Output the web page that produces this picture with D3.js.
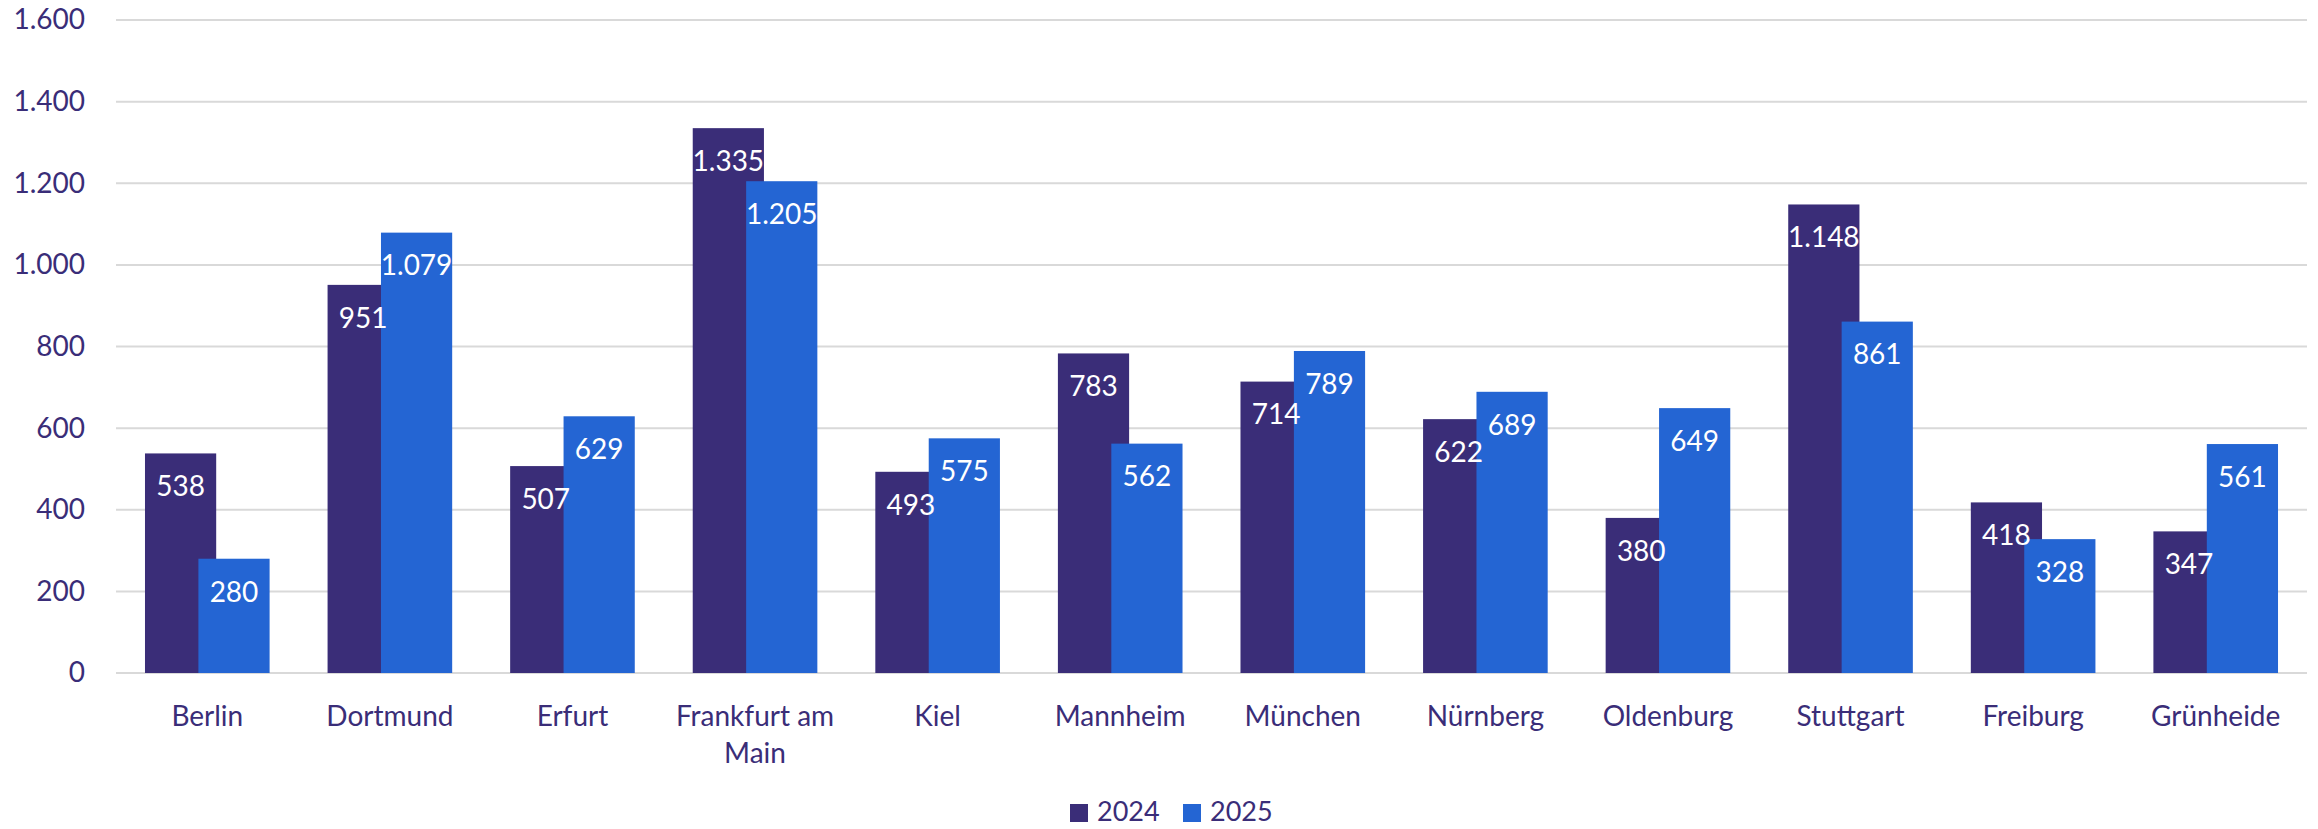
<!DOCTYPE html>
<html lang="de">
<head>
	<meta charset="utf-8">
	<title>2024 vs 2025 nach Standort</title>
	<script src="https://d3js.org/d3.v7.min.js"></script>
	<style type="text/css">
		body { margin: 0; background: #fff; }
		text { font-family: Lato, "Open Sans", sans-serif; }
		.grid line { stroke: #d9d9d9; stroke-width: 2; }
		.axis text { fill: #3a2d78; font-size: 28px; }
		.label { fill: #fff; font-size: 28px; }
	</style>
</head>
<body>
<script type="text/javascript">

	// Data
	var categories = ["Berlin", "Dortmund", "Erfurt", "Frankfurt am Main", "Kiel", "Mannheim",
		"München", "Nürnberg", "Oldenburg", "Stuttgart", "Freiburg", "Grünheide"];
	var seriesNames = ["2024", "2025"];
	var values2024 = [538, 951, 507, 1335, 493, 783, 714, 622, 380, 1148, 418, 347];
	var values2025 = [280, 1079, 629, 1205, 575, 562, 789, 689, 649, 861, 328, 561];
	var yTicks = [0, 200, 400, 600, 800, 1000, 1200, 1400, 1600];
	var colors = ["#3a2d78", "#2465d3"];

	var series = [values2024, values2025];

	var width = 2318, height = 829;
	var margin = {top: 20, right: 11, bottom: 156, left: 116};

	var de = d3.formatLocale({decimal: ",", thousands: ".", grouping: [3], currency: ["", " €"]});
	var fmt = de.format(",d");

	var svg = d3.select("body").append("svg")
		.attr("width", width)
		.attr("height", height);

	var x0 = d3.scaleBand()
		.domain(categories)
		.range([margin.left, width - margin.right])
		.padding(0);

	var y = d3.scaleLinear()
		.domain([0, 1600])
		.range([height - margin.bottom, margin.top]);

	// bar geometry (bars overlap by 25%)
	var barW = x0.step() * 0.39;
	var overlap = barW * 0.25;
	var groupW = barW * 2 - overlap;

	function barX(i, s) {
		return x0(categories[i]) + x0.bandwidth() / 2 - groupW / 2 + s * (barW - overlap);
	}

	// gridlines
	svg.append("g")
		.attr("class", "grid")
		.selectAll("line")
		.data(yTicks)
		.enter().append("line")
		.attr("x1", margin.left)
		.attr("x2", width - margin.right)
		.attr("y1", function(d) { return y(d); })
		.attr("y2", function(d) { return y(d); });

	// y axis labels
	var yAxis = d3.axisLeft(y)
		.tickValues(yTicks)
		.tickSize(0)
		.tickPadding(31)
		.tickFormat(fmt);

	svg.append("g")
		.attr("class", "axis")
		.attr("transform", "translate(" + margin.left + ",0)")
		.call(yAxis)
		.call(function(g) { g.select(".domain").remove(); });

	// bars
	series.forEach(function(vals, s) {
		svg.append("g")
			.selectAll("rect")
			.data(vals)
			.enter().append("rect")
			.attr("x", function(d, i) { return barX(i, s); })
			.attr("y", function(d) { return y(d); })
			.attr("width", barW)
			.attr("height", function(d) { return y(0) - y(d); })
			.attr("fill", colors[s]);
	});

	// data labels (inside end), drawn after all bars
	series.forEach(function(vals, s) {
		svg.append("g")
			.selectAll("text")
			.data(vals)
			.enter().append("text")
			.attr("class", "label")
			.attr("text-anchor", "middle")
			.attr("dy", "0.35em")
			.attr("x", function(d, i) { return barX(i, s) + barW / 2; })
			.attr("y", function(d) { return y(d) + 33; })
			.text(function(d) { return fmt(d); });
	});

	// x axis labels
	var xAxis = d3.axisBottom(x0).tickSize(0).tickPadding(33);
	svg.append("g")
		.attr("class", "axis x")
		.attr("transform", "translate(0," + y(0) + ")")
		.call(xAxis)
		.call(function(g) { g.select(".domain").remove(); })
		.selectAll("text")
		.call(wrap, x0.step() - 8);

	function wrap(texts, w) {
		texts.each(function() {
			var text = d3.select(this),
				words = text.text().split(/\s+/).reverse(),
				word, line = [], lineNo = 0,
				yy = text.attr("y"), dy = parseFloat(text.attr("dy")),
				tspan = text.text(null).append("tspan").attr("x", 0).attr("y", yy).attr("dy", dy + "em");
			while ((word = words.pop())) {
				line.push(word);
				tspan.text(line.join(" "));
				if (tspan.node().getComputedTextLength() > w && line.length > 1) {
					line.pop();
					tspan.text(line.join(" "));
					line = [word];
					tspan = text.append("tspan").attr("x", 0).attr("y", yy)
						.attr("dy", (++lineNo * 1.32 + dy) + "em").text(word);
				}
			}
		});
	}

	// legend
	var legend = svg.append("g").attr("class", "axis");
	var legX = [1070, 1183];
	seriesNames.forEach(function(name, s) {
		legend.append("rect")
			.attr("x", legX[s])
			.attr("y", 804)
			.attr("width", 18)
			.attr("height", 18)
			.attr("fill", colors[s]);
		legend.append("text")
			.attr("x", legX[s] + 27)
			.attr("y", 812)
			.attr("dy", "0.35em")
			.style("font-size", "27px")
			.text(name);
	});

</script>
</body>
</html>
